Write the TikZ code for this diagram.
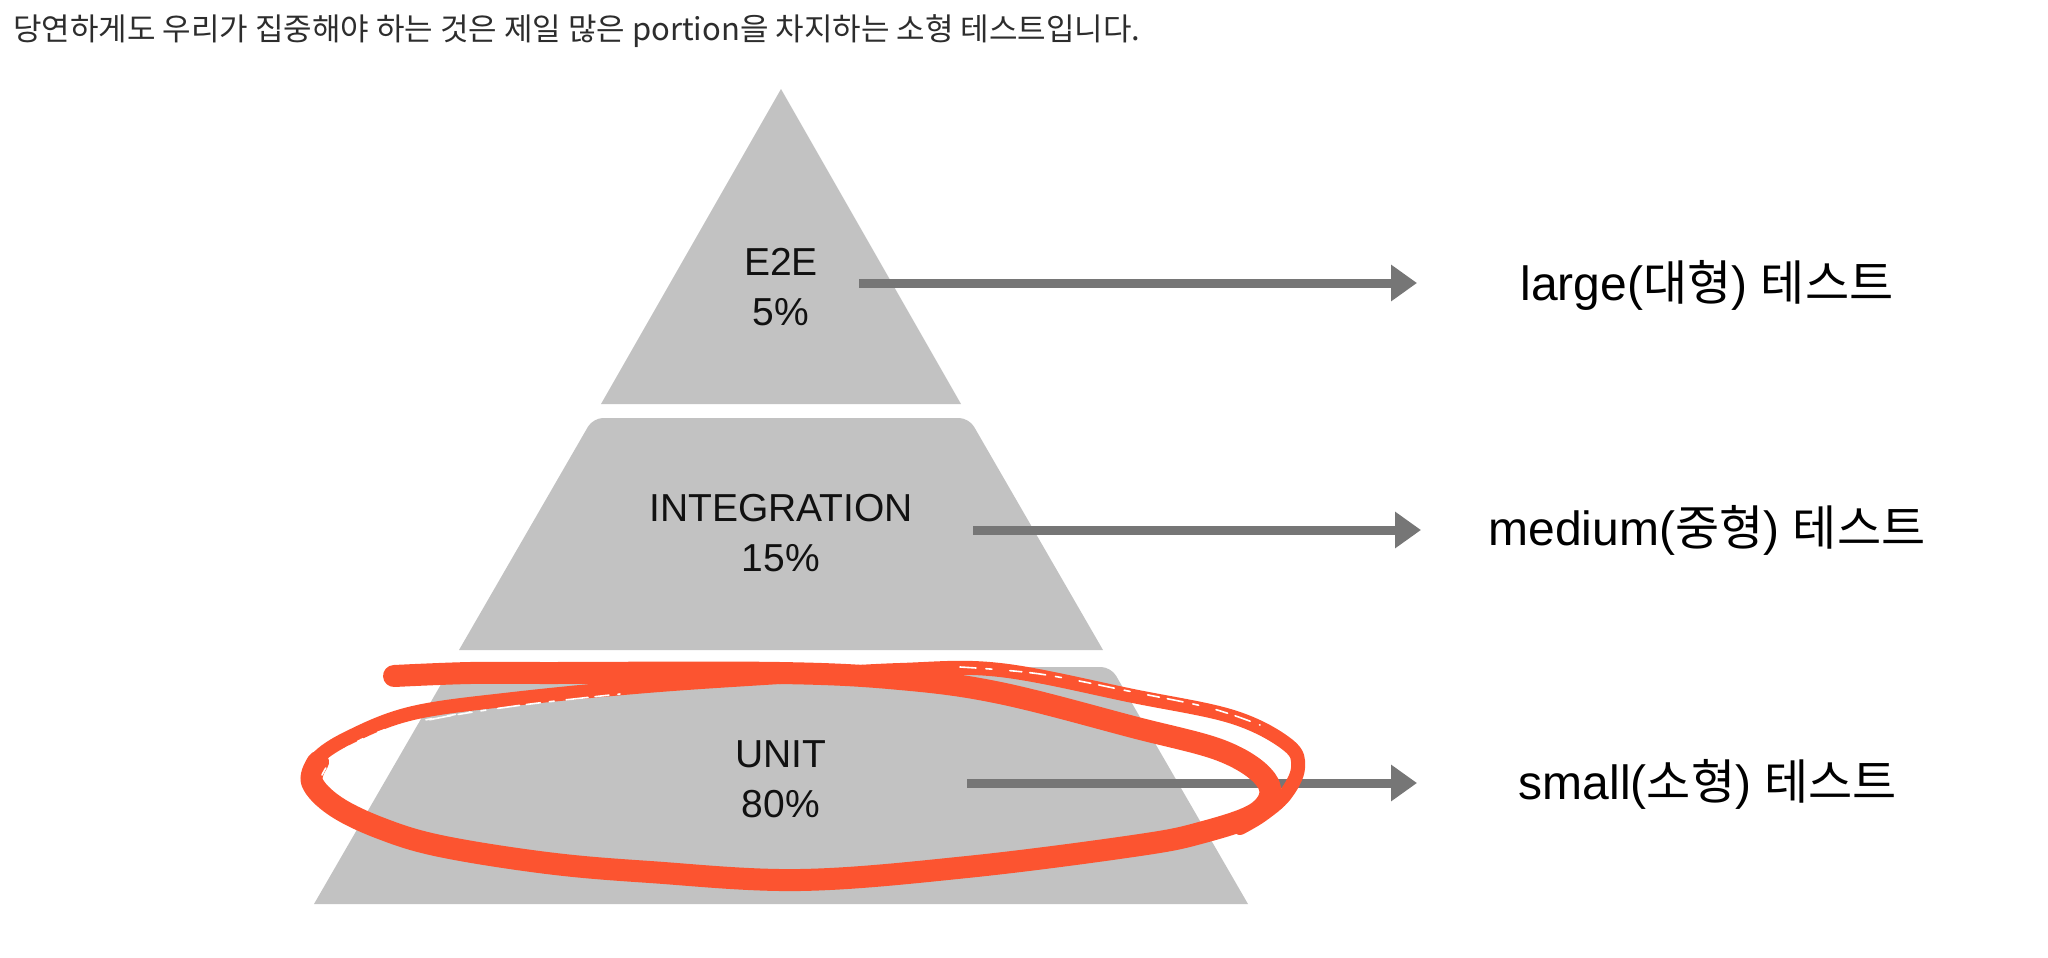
\documentclass[tikz,border=0pt]{standalone}
\usepackage{fontspec}
\setmainfont{Noto Sans CJK KR}
\newfontfamily\kr{Noto Sans CJK KR}
\newfontfamily\lat{Liberation Sans}
\usetikzlibrary{arrows.meta}
\definecolor{pyr}{RGB}{194,194,194}
\definecolor{arrg}{RGB}{118,118,118}
\definecolor{brush}{RGB}{252,84,48}
\definecolor{titlec}{RGB}{45,45,45}
\definecolor{txt}{RGB}{17,17,17}
\tikzset{
  plab/.style={align=center, text=txt, font=\lat\fontsize{39}{50}\selectfont, inner sep=0pt},
  rlab/.style={text=black, font=\lat\fontsize{48}{56}\selectfont, inner sep=0pt},
  ttl/.style={anchor=west, text=titlec, font=\fontsize{31}{36}\selectfont, inner sep=0pt},
  arr/.style={draw=arrg, line width=9pt, -{Triangle[length=26pt,width=35pt]}},
  stroke/.style={draw=brush, line cap=round, line join=round},
  streak/.style={draw=white, line width=1.6pt, line cap=round}
}
\begin{document}
\begin{tikzpicture}[x=1pt,y=-1pt]
\useasboundingbox (0,0) rectangle (2048,958);

% title
\node[ttl] (title) at (13,31) {당연하게도 우리가 집중해야 하는 것은 제일 많은 portion을 차지하는 소형 테스트입니다.};

% pyramid
\fill[pyr] (781,89) -- (961,404) -- (601,404) -- cycle;
\fill[pyr] (459,650) [rounded corners=10pt] -- (593,418) -- (969,418) [sharp corners] -- (1103,650) -- cycle;
\fill[pyr] (314,904) [rounded corners=10pt] -- (451,667) -- (1111,667) [sharp corners] -- (1248,904) -- cycle;

% pyramid labels
\node[plab] (e2e) at (781,287) {E2E\\5\%};
\node[plab] (integ) at (781,533) {INTEGRATION\\15\%};
\node[plab] (unit) at (781,779) {UNIT\\80\%};

% right labels
\node[rlab] (large) at (1707,285) {large({\kr 대형}) {\kr 테스트}};
\node[rlab] (medium) at (1707,530) {medium({\kr 중형}) {\kr 테스트}};
\node[rlab] (small) at (1708,784) {small({\kr 소형}) {\kr 테스트}};

% arrows
\coordinate (s1) at (859,283);
\coordinate (t1) at (1417,283);
\coordinate (s2) at (973,530);
\coordinate (t2) at (1421,530);
\coordinate (s3) at (967,783);
\coordinate (t3) at (1417,783);
\draw[arr] (s1) -- (t1);
\draw[arr] (s2) -- (t2);
\draw[arr] (s3) -- (t3);

% brush ellipse: second (thinner, streaky) loop
\draw[stroke, line width=14pt] plot[smooth, tension=0.6] coordinates {
 (440,846) (380,828) (333,808) (310,785) (316,760) (350,737) (413,713) (513,699) (647,686) (780,677) (900,670)
 (1000,670) (1133,696) (1233,717) (1288,745) (1298,768) (1285,795) (1262,815) (1240,828)};
% first (thick) loop
\draw[stroke, line width=22pt] plot[smooth, tension=0.6] coordinates {
 (394,676) (470,673) (550,673) (780,673) (900,679) (1000,693) (1133,727) (1225,752)
 (1268,783) (1258,812) (1200,833) (1133,846) (967,867) (800,880) (650,872) (547,863)
 (440,846) (380,828) (335,806) (312,782) (318,762)};
% dry-brush streaks
\draw[streak, dash pattern=on 14pt off 9pt on 5pt off 12pt on 22pt off 7pt]
  plot[smooth, tension=0.6] coordinates {(330,762) (360,744) (420,722) (515,706) (620,694)};
\draw[streak, dash pattern=on 8pt off 14pt on 18pt off 10pt on 6pt off 16pt]
  plot[smooth, tension=0.6] coordinates {(322,775) (340,752) (390,728) (470,712)};
\draw[streak, dash pattern=on 16pt off 10pt on 6pt off 18pt on 12pt off 8pt]
  plot[smooth, tension=0.6] coordinates {(960,667) (1040,674) (1133,692) (1210,708) (1260,725)};
\end{tikzpicture}
\end{document}
